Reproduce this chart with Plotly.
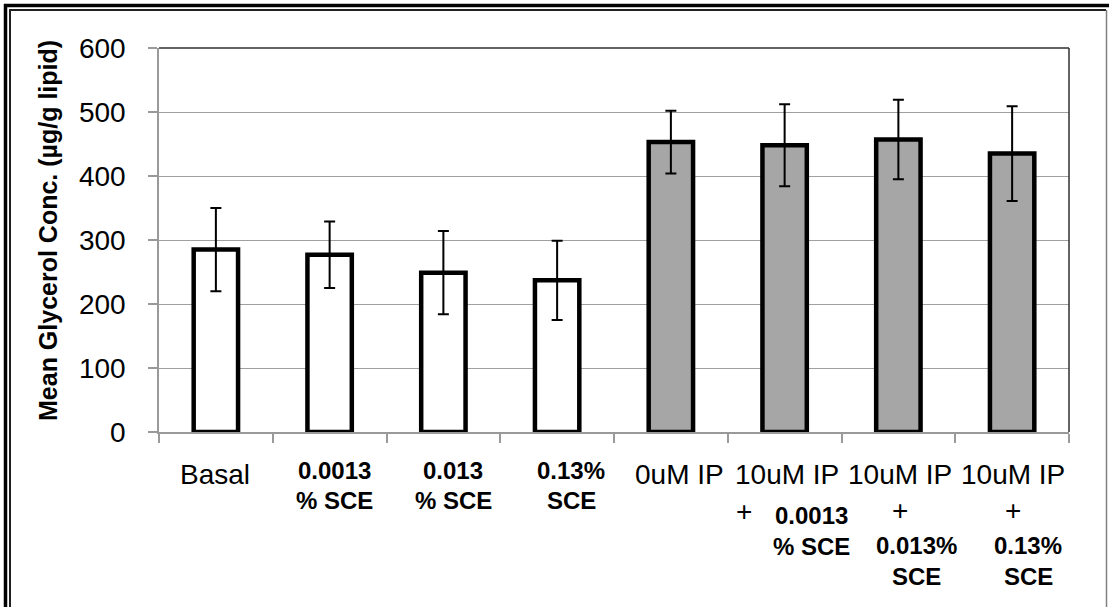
import plotly.graph_objects as go

# ---- data ----
categories = ["Basal", "0.0013 % SCE", "0.013 % SCE", "0.13% SCE",
              "0uM IP", "10uM IP + 0.0013 % SCE", "10uM IP + 0.013% SCE",
              "10uM IP + 0.13% SCE"]
means = [285, 277, 249, 237, 453, 448, 457, 435]
errors = [65, 52, 65, 62, 49, 64, 62, 74]
is_stimulated = [False, False, False, False, True, True, True, True]

# tick label lines per category: (text, bold)
tick_label_lines = [
    [("Basal", False)],
    [("0.0013", True), ("% SCE", True)],
    [("0.013", True), ("% SCE", True)],
    [("0.13%", True), ("SCE", True)],
    [("0uM IP", False)],
    [("10uM IP", False), ("+", False), ("0.0013", True), ("% SCE", True)],
    [("10uM IP", False), ("+", False), ("0.013%", True), ("SCE", True)],
    [("10uM IP", False), ("+", False), ("0.13%", True), ("SCE", True)],
]
y_ticks = [0, 100, 200, 300, 400, 500, 600]
y_title = "Mean Glycerol Conc. (µg/g lipid)"

# ---- layout geometry (pixels) ----
W, H = 1109, 607
L, R, T, B = 159, 40, 48, 175
PW, PH = W - L - R, H - T - B
FONT = "Liberation Sans, Arial, sans-serif"

# per-line label placement: (x offset px from category centre, y centre px)
label_pos = [
    [(-1, 474)],
    [(5, 470), (5, 500)],
    [(10, 470), (10, 500)],
    [(14, 470), (14, 500)],
    [(9, 474)],
    [(2, 474), (-41, 511), (27, 515), (27, 546)],
    [(2, 474), (2, 510), (18, 545), (18, 576)],
    [(1, 474), (1, 510), (16, 545), (16, 576)],
]

fill_colors = ["#a6a6a6" if s else "#ffffff" for s in is_stimulated]

fig = go.Figure()
fig.add_trace(go.Bar(
    x=categories, y=means,
    marker=dict(color=fill_colors, line=dict(color="#000000", width=4.5)),
    error_y=dict(type="data", array=errors, visible=True,
                 color="#000000", thickness=2, width=5.5),
    width=0.39,
    showlegend=False,
))


def px_to_paper_x(px):
    return (px - L) / PW


def px_to_paper_y(py):
    return (H - B - py) / PH


annotations = []
for cat, lines, poss in zip(categories, tick_label_lines, label_pos):
    for (text, bold), (dx, yc) in zip(lines, poss):
        annotations.append(dict(
            x=cat, xref="x", y=px_to_paper_y(yc), yref="paper",
            xanchor="center", yanchor="middle", xshift=dx,
            text=f"<b>{text}</b>" if bold else text,
            showarrow=False,
            font=dict(family=FONT, size=24 if bold else 28, color="#000000"),
        ))

annotations.append(dict(
    x=px_to_paper_x(48), xref="paper", y=px_to_paper_y(231), yref="paper",
    xanchor="center", yanchor="middle", textangle=-90,
    text=f"<b>{y_title}</b>", showarrow=False,
    font=dict(family=FONT, size=25, color="#000000"),
))

shapes = []


def line_px(x0, y0, x1, y1, color, width):
    shapes.append(dict(type="line", xref="paper", yref="paper",
                       x0=px_to_paper_x(x0), y0=px_to_paper_y(y0),
                       x1=px_to_paper_x(x1), y1=px_to_paper_y(y1),
                       line=dict(color=color, width=width), layer="above"))


# plot-area top and right border
line_px(L, T, L + PW, T, "#303030", 1.5)
line_px(L + PW, T, L + PW, T + PH, "#303030", 1.5)
# outer frame of the picture
line_px(5.5, 4, 5.5, H, "#000000", 3.5)
line_px(4, 5.5, W, 5.5, "#000000", 3.5)
line_px(10, 9.5, 10, H, "#202020", 2)
line_px(9, 10, 1106, 10, "#202020", 2)
line_px(1106.5, 10, 1106.5, H, "#808080", 1.5)

fig.update_layout(
    width=W, height=H,
    margin=dict(l=L, r=R, t=T, b=B, pad=0),
    paper_bgcolor="#ffffff", plot_bgcolor="#ffffff",
    font=dict(family=FONT, color="#000000"),
    bargap=0.6,
    xaxis=dict(
        type="category", showticklabels=False, showgrid=False,
        showline=True, linecolor="#9a9a9a", linewidth=1.5,
        ticks="outside", tickson="boundaries", ticklen=9,
        tickcolor="#9a9a9a", tickwidth=1.5, zeroline=False,
        range=[-0.5, len(categories) - 0.5],
    ),
    yaxis=dict(
        range=[0, 600], tickvals=y_ticks, ticktext=[str(v) for v in y_ticks],
        showgrid=True, gridcolor="#a0a0a0", gridwidth=1.2,
        showline=True, linecolor="#9a9a9a", linewidth=1.5,
        ticks="outside", ticklen=9, tickcolor="#9a9a9a", tickwidth=1.5,
        ticklabelstandoff=17, zeroline=False,
        tickfont=dict(family=FONT, size=28, color="#000000"),
    ),
    annotations=annotations,
    shapes=shapes,
)

fig.write_html(
    "out.html",
    config={"displayModeBar": False},
    post_script="document.body.style.margin='0';document.body.style.padding='0';"
                "document.documentElement.style.overflow='hidden';",
)
